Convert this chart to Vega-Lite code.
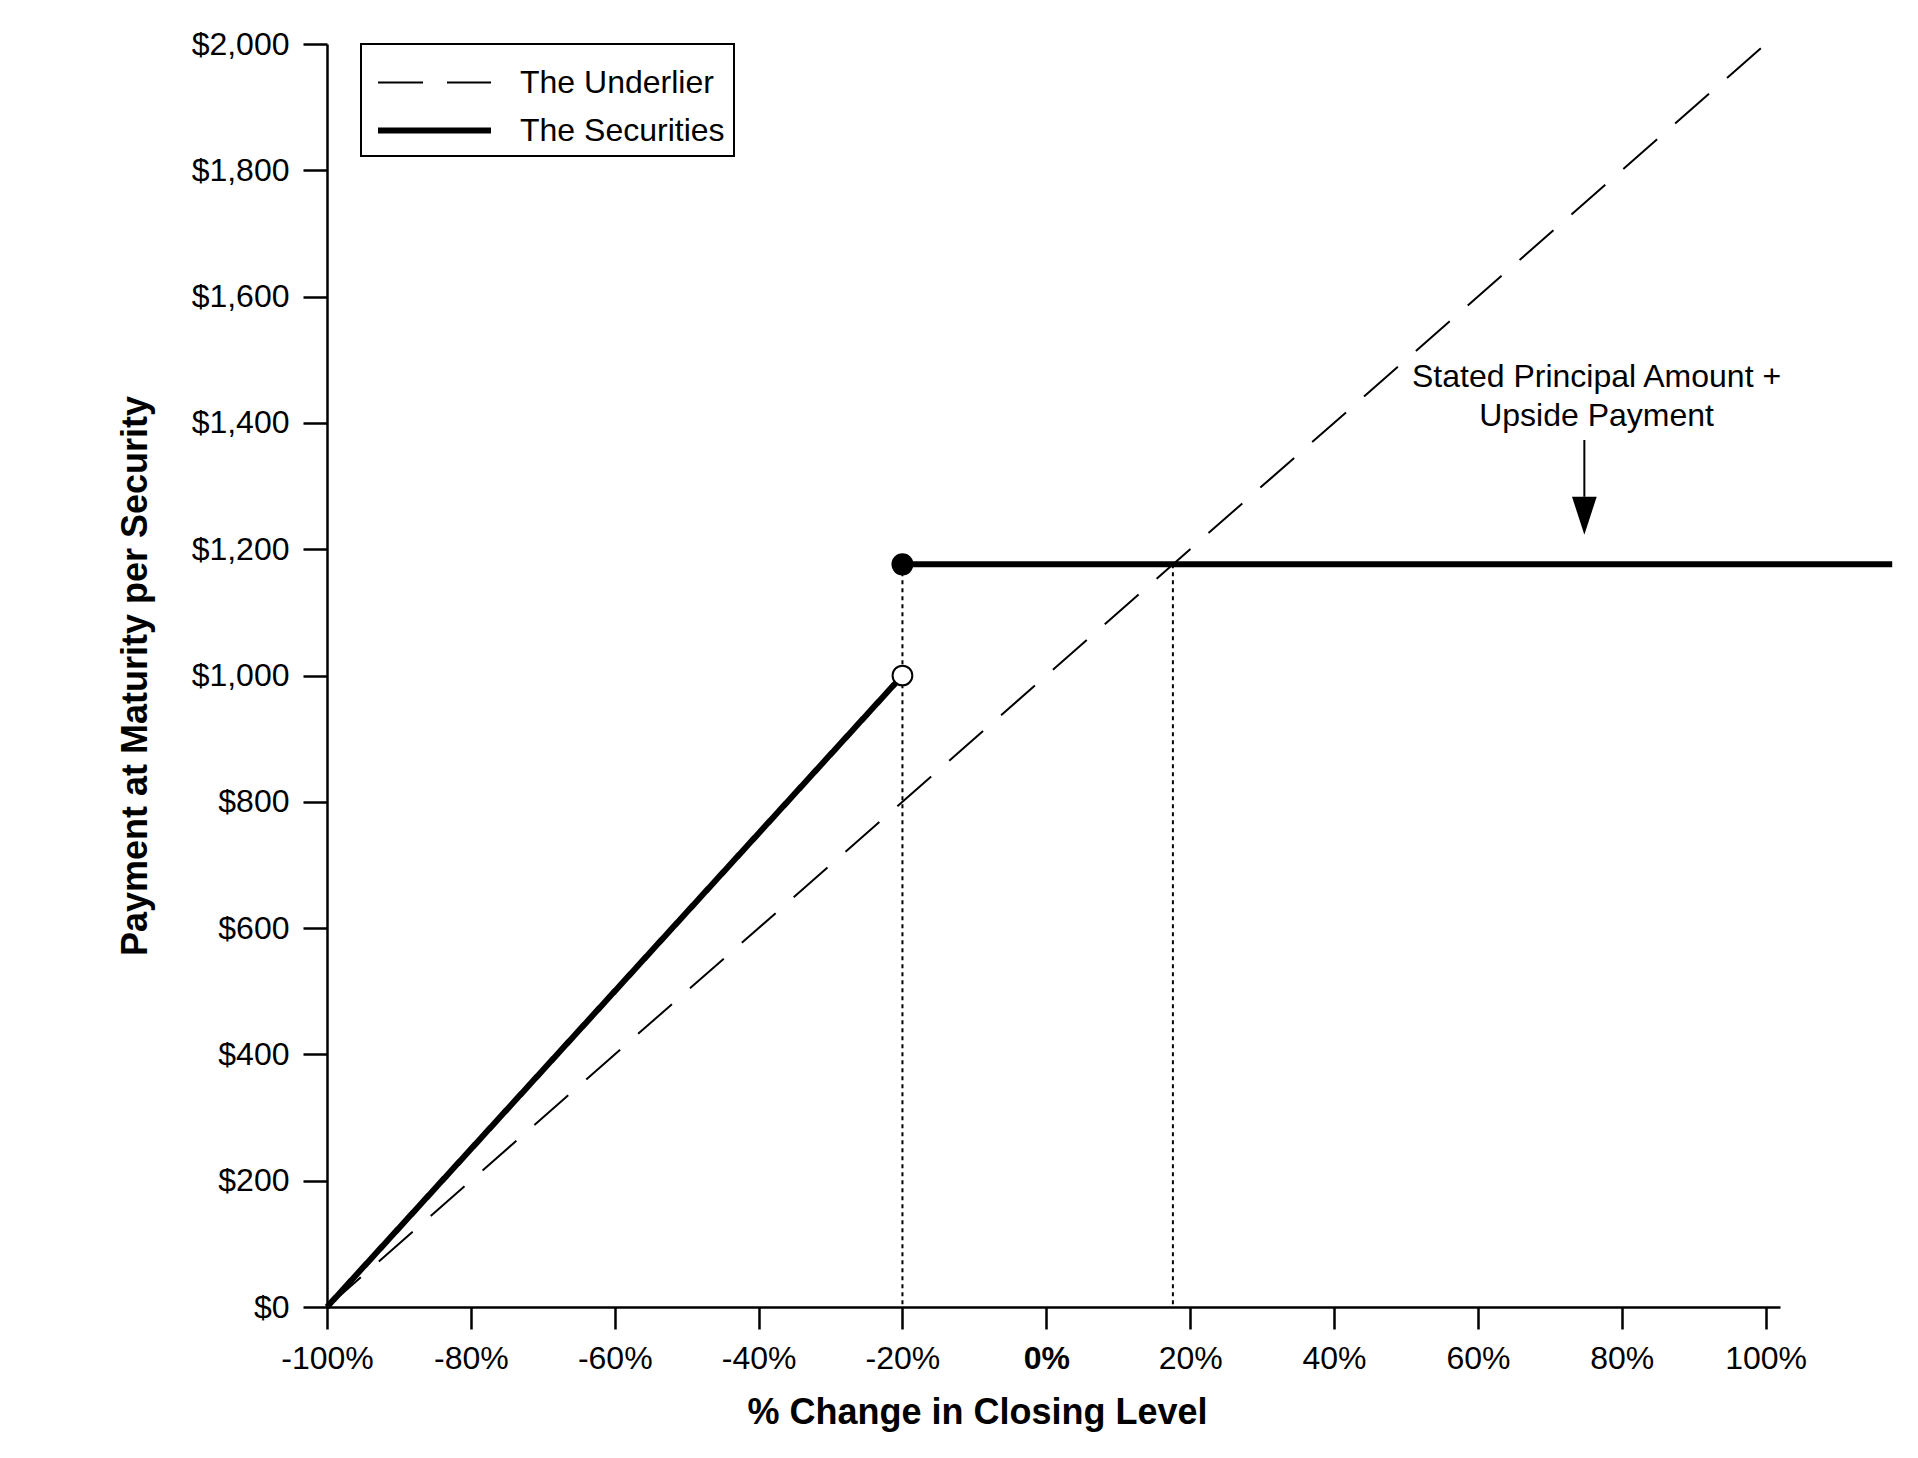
{
  "$schema": "https://vega.github.io/schema/vega-lite/v6.json",
  "autosize": "none",
  "width": 1453,
  "height": 1263,
  "padding": {"left": 327, "top": 44, "right": 138, "bottom": 151},
  "background": "white",
  "config": {
    "font": "Liberation Sans",
    "view": {"stroke": null},
    "axis": {
      "grid": false,
      "domainColor": "black",
      "domainWidth": 2.5,
      "tickColor": "black",
      "tickWidth": 2.5,
      "labelColor": "black",
      "labelFont": "Liberation Sans",
      "labelFontSize": 32,
      "titleFont": "Liberation Sans",
      "titleColor": "black",
      "titleFontSize": 36,
      "titleFontWeight": "bold"
    },
    "legend": {
      "labelFont": "Liberation Sans",
      "labelColor": "black",
      "labelFontSize": 32,
      "labelLimit": 1000
    }
  },
  "datasets": {
    "payoff": [
      {"pct": -100, "payment": 0, "series": "The Underlier", "segment": "u"},
      {"pct": 100, "payment": 2000, "series": "The Underlier", "segment": "u"},
      {"pct": -100, "payment": 0, "series": "The Securities", "segment": "s1"},
      {"pct": -20, "payment": 1000, "series": "The Securities", "segment": "s1"},
      {"pct": -20, "payment": 1176, "series": "The Securities", "segment": "s2"},
      {"pct": 117.6, "payment": 1176, "series": "The Securities", "segment": "s2"}
    ],
    "guides": [
      {"pct": -20, "payment": 1176, "base": 0},
      {"pct": 17.6, "payment": 1176, "base": 0}
    ],
    "closed": [{"pct": -20, "payment": 1176}],
    "open": [{"pct": -20, "payment": 1000}],
    "arrow": [{"pct": 74.8, "top": 1373, "bottom": 1283, "head": 1253}],
    "note": [{"pct": 76.5, "payment": 1457, "text": "Stated Principal Amount +\nUpside Payment"}]
  },
  "layer": [
    {
      "data": {"name": "guides"},
      "mark": {"type": "rule", "color": "black", "strokeWidth": 2, "strokeDash": [4, 4]},
      "encoding": {
        "x": {"field": "pct", "type": "quantitative"},
        "y": {"field": "payment", "type": "quantitative"},
        "y2": {"field": "base"}
      }
    },
    {
      "data": {"name": "payoff"},
      "mark": {"type": "line", "color": "black", "strokeCap": "butt"},
      "encoding": {
        "x": {
          "field": "pct",
          "type": "quantitative",
          "scale": {"domain": [-100, 102], "nice": false, "zero": false},
          "axis": {
            "values": [-100, -80, -60, -40, -20, 0, 20, 40, 60, 80, 100],
            "labelExpr": "datum.value + '%'",
            "labelFlush": false,
            "labelOverlap": false,
            "labelFontWeight": {"condition": {"test": "datum.value === 0", "value": "bold"}, "value": "normal"},
            "tickSize": 22,
            "labelPadding": 14,
            "title": "% Change in Closing Level",
            "titleX": 650,
            "titleY": 116,
            "titleAlign": "center",
            "titleBaseline": "alphabetic"
          }
        },
        "y": {
          "field": "payment",
          "type": "quantitative",
          "scale": {"domain": [0, 2000], "nice": false},
          "axis": {
            "values": [0, 200, 400, 600, 800, 1000, 1200, 1400, 1600, 1800, 2000],
            "format": "$,.0f",
            "labelOverlap": false,
            "tickSize": 24,
            "labelPadding": 14,
            "title": "Payment at Maturity per Security",
            "titleAngle": -90,
            "titleX": -192,
            "titleY": 631.5,
            "titleAlign": "center",
            "titleBaseline": "middle"
          }
        },
        "detail": {"field": "segment"},
        "strokeDash": {
          "field": "series",
          "type": "nominal",
          "scale": {"domain": ["The Underlier", "The Securities"], "range": [[45, 24], [1, 0]]},
          "legend": {
            "title": null,
            "orient": "none",
            "legendX": 34,
            "legendY": 0,
            "padding": 9,
            "rowPadding": 0,
            "symbolOffset": 33,
            "strokeColor": "black",
            "symbolType": "M-2,0H2",
            "symbolSize": 3192,
            "symbolStrokeColor": "black",
            "labelOffset": 54,
            "encode": {"legend": {"update": {"strokeWidth": {"value": 2}}}}
          }
        },
        "strokeWidth": {
          "field": "series",
          "type": "nominal",
          "scale": {"domain": ["The Underlier", "The Securities"], "range": [2, 6]},
          "legend": {
            "title": null,
            "orient": "none",
            "legendX": 34,
            "legendY": 0,
            "padding": 9,
            "rowPadding": 0,
            "symbolOffset": 33,
            "strokeColor": "black",
            "symbolType": "M-2,0H2",
            "symbolSize": 3192,
            "symbolStrokeColor": "black",
            "labelOffset": 54,
            "encode": {"legend": {"update": {"strokeWidth": {"value": 2}}}}
          }
        }
      }
    },
    {
      "data": {"name": "closed"},
      "mark": {"type": "point", "shape": "circle", "filled": true, "color": "black", "size": 484, "opacity": 1},
      "encoding": {
        "x": {"field": "pct", "type": "quantitative"},
        "y": {"field": "payment", "type": "quantitative"}
      }
    },
    {
      "data": {"name": "open"},
      "mark": {"type": "point", "shape": "circle", "filled": false, "fill": "white", "fillOpacity": 1, "stroke": "black", "strokeWidth": 2, "size": 390, "opacity": 1},
      "encoding": {
        "x": {"field": "pct", "type": "quantitative"},
        "y": {"field": "payment", "type": "quantitative"}
      }
    },
    {
      "data": {"name": "arrow"},
      "mark": {"type": "rule", "color": "black", "strokeWidth": 2},
      "encoding": {
        "x": {"field": "pct", "type": "quantitative"},
        "y": {"field": "top", "type": "quantitative"},
        "y2": {"field": "bottom"}
      }
    },
    {
      "data": {"name": "arrow"},
      "mark": {"type": "point", "shape": "M-0.65,-1L0.65,-1L0,1Z", "filled": true, "color": "black", "size": 1444, "opacity": 1},
      "encoding": {
        "x": {"field": "pct", "type": "quantitative"},
        "y": {"field": "head", "type": "quantitative"}
      }
    },
    {
      "data": {"name": "note"},
      "mark": {"type": "text", "font": "Liberation Sans", "fontSize": 32, "color": "black", "align": "center", "baseline": "alphabetic", "lineBreak": "\n", "lineHeight": 39},
      "encoding": {
        "x": {"field": "pct", "type": "quantitative"},
        "y": {"field": "payment", "type": "quantitative"},
        "text": {"field": "text"}
      }
    }
  ]
}
